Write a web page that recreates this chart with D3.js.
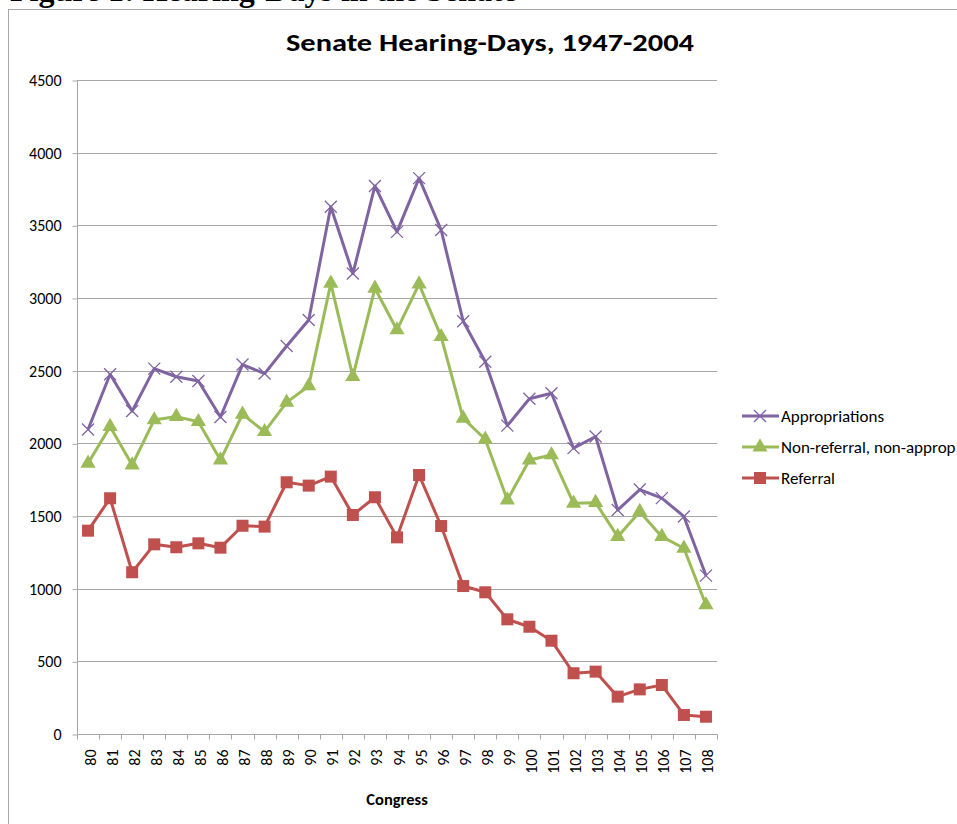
<!DOCTYPE html>
<html>
<head>
<meta charset="utf-8">
<script src="https://cdn.jsdelivr.net/npm/d3@7"></script>
<style>
  html, body { margin: 0; padding: 0; background: #fff; }
  svg { display: block; }
</style>
</head>
<body>
<svg id="chart" width="957" height="824"></svg>
<script>
const congresses = ["80","81","82","83","84","85","86","87","88","89","90","91","92","93","94","95","96","97","98","99","100","101","102","103","104","105","106","107","108"];
const appropriations = [2095,2475,2222,2514,2458,2429,2181,2542,2480,2670,2849,3628,3168,3771,3455,3825,3468,2840,2561,2122,2307,2345,1967,2047,1541,1682,1623,1497,1090];
const nonReferral = [1863,2115,1851,2161,2184,2149,1885,2200,2080,2282,2395,3101,2459,3067,2780,3096,2734,2172,2028,1610,1885,1920,1587,1592,1358,1530,1358,1278,888];
const referral = [1399,1622,1113,1305,1285,1312,1282,1433,1427,1732,1709,1771,1507,1629,1353,1782,1431,1018,975,789,738,642,418,429,257,307,337,131,119];
const yTicks = [0,500,1000,1500,2000,2500,3000,3500,4000,4500];
const seriesNames = ["Appropriations","Non-referral, non-approp","Referral"];
const seriesColors = ["#8064A2","#9BBB59","#C0504D"];
const seriesMarkers = ["cross","triangle","square"];
const chartTitle = "Senate Hearing-Days, 1947-2004";
const xTitle = "Congress";
const captionText = "Figure 1: Hearing-Days in the Senate";

const series = [appropriations, nonReferral, referral].map((vals, i) => ({
  name: seriesNames[i], color: seriesColors[i], marker: seriesMarkers[i], values: vals
}));

const svg = d3.select("#chart");
const font = "Carlito, Lato, 'Open Sans', sans-serif";

// figure caption (cut off at top, as in the source page)
svg.append("text")
  .attr("x", 10).attr("y", 1)
  .attr("font-family", "'Liberation Serif', 'Times New Roman', serif")
  .attr("font-weight", "bold")
  .attr("font-size", 32)
  .attr("fill", "#000")
  .text(captionText);

// chart frame
svg.append("rect")
  .attr("x", 8.5).attr("y", 9.5)
  .attr("width", 1000).attr("height", 900)
  .attr("fill", "#fff")
  .attr("stroke", "#a6a6a6").attr("stroke-width", 1);

const plot = { left: 77, right: 717, top: 80, bottom: 734 };

const x = d3.scaleBand().domain(congresses).range([plot.left, plot.right]).paddingInner(0).paddingOuter(0);
const y = d3.scaleLinear().domain([0, 4500]).range([plot.bottom, plot.top]);

// gridlines
svg.append("g")
  .selectAll("line")
  .data(yTicks.filter(d => d > 0))
  .join("line")
  .attr("x1", plot.left).attr("x2", plot.right)
  .attr("y1", d => Math.round(y(d)) + 0.5).attr("y2", d => Math.round(y(d)) + 0.5)
  .attr("stroke", "#a6a6a6").attr("stroke-width", 1);

// y axis
const yAxis = d3.axisLeft(y).tickValues(yTicks).tickSize(5).tickPadding(11).tickFormat(d3.format("d"));
const gy = svg.append("g").attr("transform", `translate(${plot.left + 0.5},0.5)`).call(yAxis);
gy.select(".domain").attr("stroke", "#a6a6a6").attr("d", `M0,${plot.bottom}V${plot.top}`);
gy.selectAll(".tick line").attr("stroke", "#a6a6a6");
gy.selectAll(".tick text").attr("font-family", font).attr("font-size", 16).attr("fill", "#000");

// x axis
const tickPos = congresses.map(c => x(c)).concat([plot.right]);
const gx = svg.append("g").attr("transform", `translate(0.5,${plot.bottom + 0.5})`);
gx.append("line").attr("x1", plot.left).attr("x2", plot.right).attr("y1", 0).attr("y2", 0).attr("stroke", "#a6a6a6");
gx.selectAll("line.tk").data(tickPos).join("line").attr("class", "tk")
  .attr("x1", d => Math.round(d)).attr("x2", d => Math.round(d)).attr("y1", 0).attr("y2", 5).attr("stroke", "#a6a6a6");
gx.selectAll("text").data(congresses).join("text")
  .attr("transform", d => `translate(${x(d) + x.bandwidth() / 2 + 7},15) rotate(-90)`)
  .attr("text-anchor", "end")
  .attr("font-family", font).attr("font-size", 16).attr("fill", "#000")
  .text(d => d);

// titles
svg.append("text")
  .attr("x", 490).attr("y", 51)
  .attr("text-anchor", "middle")
  .attr("font-family", font).attr("font-weight", "bold").attr("font-size", 25)
  .attr("textLength", 408).attr("lengthAdjust", "spacingAndGlyphs")
  .attr("fill", "#000")
  .text(chartTitle);

svg.append("text")
  .attr("x", (plot.left + plot.right) / 2).attr("y", 805)
  .attr("text-anchor", "middle")
  .attr("font-family", font).attr("font-weight", "bold").attr("font-size", 16.5)
  .attr("fill", "#000")
  .text(xTitle);

// markers
function drawMarker(g, type, color, cx, cy) {
  if (type === "cross") {
    const s = 6;
    g.append("path")
      .attr("d", `M${cx - s},${cy - s}L${cx + s},${cy + s}M${cx - s},${cy + s}L${cx + s},${cy - s}`)
      .attr("stroke", color).attr("stroke-width", 1.3).attr("fill", "none");
  } else if (type === "triangle") {
    g.append("path")
      .attr("d", d3.symbol().type(d3.symbolTriangle).size(100)())
      .attr("transform", `translate(${cx},${cy})`)
      .attr("fill", color);
  } else {
    const s = 12;
    g.append("rect")
      .attr("x", cx - s / 2).attr("y", cy - s / 2).attr("width", s).attr("height", s)
      .attr("fill", color);
  }
}

const line = d3.line()
  .x((d, i) => x(congresses[i]) + x.bandwidth() / 2)
  .y(d => y(d));

series.forEach(s => {
  const g = svg.append("g");
  g.append("path")
    .attr("d", line(s.values))
    .attr("fill", "none")
    .attr("stroke", s.color).attr("stroke-width", 3).attr("stroke-linejoin", "round");
  s.values.forEach((v, i) => drawMarker(g, s.marker, s.color, x(congresses[i]) + x.bandwidth() / 2, y(v)));
});

// legend
const legendY = [416, 447, 478];
series.forEach((s, i) => {
  const g = svg.append("g");
  const ly = legendY[i];
  g.append("line").attr("x1", 742).attr("x2", 779).attr("y1", ly).attr("y2", ly)
    .attr("stroke", s.color).attr("stroke-width", 3);
  drawMarker(g, s.marker, s.color, 760, ly);
  g.append("text").attr("x", 781).attr("y", ly + 6)
    .attr("font-family", font).attr("font-size", 17).attr("fill", "#000")
    .text(s.name);
});
</script>
</body>
</html>
